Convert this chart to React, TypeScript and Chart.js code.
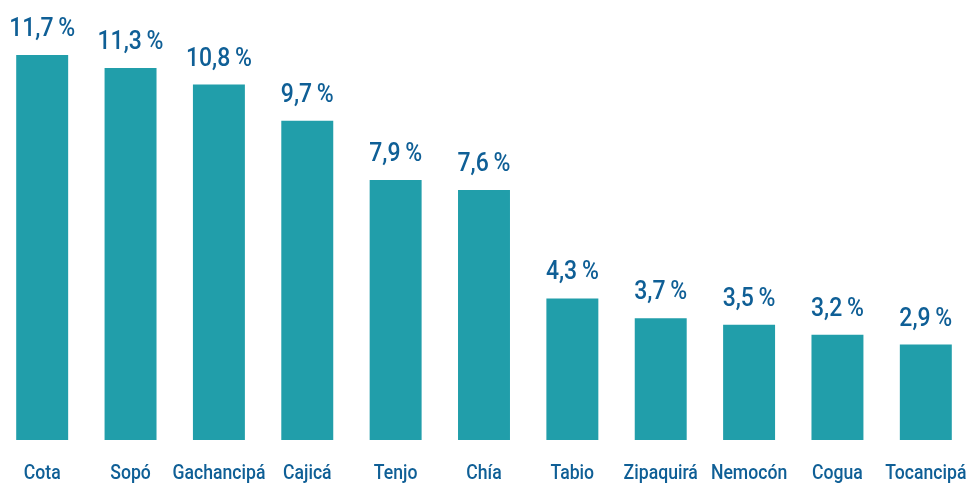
import React, { useEffect, useRef } from "react";
import { Chart, registerables } from "chart.js";

Chart.register(...registerables);

const categories = ["Cota", "Sopó", "Gachancipá", "Cajicá", "Tenjo", "Chía", "Tabio", "Zipaquirá", "Nemocón", "Cogua", "Tocancipá"];
const values = [11.7, 11.3, 10.8, 9.7, 7.9, 7.6, 4.3, 3.7, 3.5, 3.2, 2.9];
const valueLabels = ["11,7\u2009%", "11,3\u2009%", "10,8\u2009%", "9,7\u2009%", "7,9\u2009%", "7,6\u2009%", "4,3\u2009%", "3,7\u2009%", "3,5\u2009%", "3,2\u2009%", "2,9\u2009%"];

const BAR_COLOR = "#219eaa";
const TEXT_COLOR = "#0f5f96";
const FONT = "Roboto, 'Noto Sans', sans-serif";

function drawSquashed(ctx: any, text: string, x: number, y: number, font: string, targetScale: number) {
  ctx.save();
  ctx.font = font;
  ctx.translate(x, y);
  ctx.scale(targetScale, 1);
  ctx.fillText(text, 0, 0);
  ctx.restore();
}

const labelPlugin = {
  id: "labelPlugin",
  afterDatasetsDraw(chart: any) {
    const ctx = chart.ctx;
    const meta = chart.getDatasetMeta(0);
    ctx.save();
    ctx.fillStyle = TEXT_COLOR;
    ctx.textAlign = "center";
    ctx.textBaseline = "alphabetic";
    meta.data.forEach((bar: any, i: number) => {
      drawSquashed(ctx, valueLabels[i], bar.x, bar.y - 19, `500 25px ${FONT}`, 0.92);
      drawSquashed(ctx, categories[i], bar.x, 479, `500 21px ${FONT}`, 0.84);
    });
    ctx.restore();
  },
};

export default function App() {
  const ref = useRef<HTMLCanvasElement | null>(null);
  useEffect(() => {
    document.body.style.margin = "0";
    document.body.style.overflow = "hidden";
    const chart = new Chart(ref.current!, {
      type: "bar",
      data: {
        labels: categories,
        datasets: [
          {
            data: values,
            backgroundColor: BAR_COLOR,
            categoryPercentage: 1,
            barPercentage: 0.588,
          },
        ],
      },
      options: {
        animation: false,
        responsive: false,
        maintainAspectRatio: false,
        layout: { padding: { top: 0, bottom: 43, left: 0, right: 0 } },
        plugins: { legend: { display: false }, tooltip: { enabled: false } },
        scales: {
          x: { display: false },
          y: { display: false, min: 0, max: 13.37 },
        },
      },
      plugins: [labelPlugin],
    });
    return () => chart.destroy();
  }, []);
  return (
    <div style={{ position: "fixed", left: -2, top: 0, width: 972, height: 483 }}>
      <canvas ref={ref} width={972} height={483} style={{ width: 972, height: 483 }} />
    </div>
  );
}
